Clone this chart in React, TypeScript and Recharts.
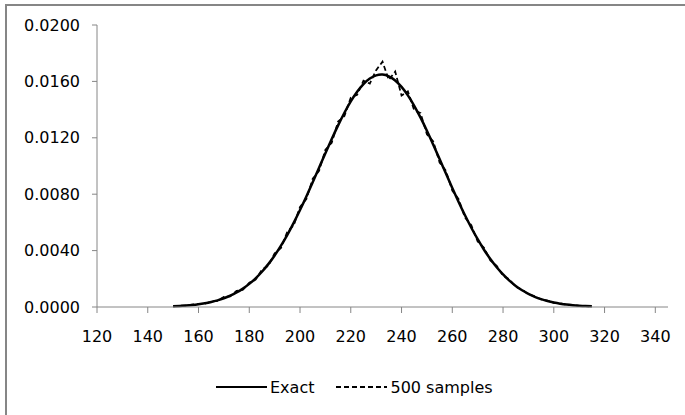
import React from "react";
import { LineChart, Line, XAxis, YAxis } from "recharts";

const xValues = [
  150, 152.5, 155, 157.5, 160, 162.5, 165, 167.5, 170, 172.5, 175, 177.5,
  180, 182.5, 185, 187.5, 190, 192.5, 195, 197.5, 200, 202.5, 205, 207.5,
  210, 212.5, 215, 217.5, 220, 222.5, 225, 227.5, 230, 232.5, 235, 237.5,
  240, 242.5, 245, 247.5, 250, 252.5, 255, 257.5, 260, 262.5, 265, 267.5,
  270, 272.5, 275, 277.5, 280, 282.5, 285, 287.5, 290, 292.5, 295, 297.5,
  300, 302.5, 305, 307.5, 310, 312.5, 315,
];

const exactValues = [
  0.000053, 0.0000748, 0.000105, 0.000144, 0.000197, 0.000267, 0.000357, 0.000473,
  0.000619, 0.000803, 0.001029, 0.001305, 0.001639, 0.002035, 0.002501, 0.00304,
  0.003657, 0.004351, 0.005122, 0.005968, 0.006877, 0.007842, 0.008848, 0.009875,
  0.010905, 0.011915, 0.01288, 0.013777, 0.014578, 0.015262, 0.015809, 0.016202,
  0.016429, 0.016485, 0.016359, 0.016065, 0.015609, 0.015005, 0.01427, 0.013429,
  0.012502, 0.011515, 0.010495, 0.009462, 0.008441, 0.007451, 0.006507, 0.005622,
  0.004805, 0.004063, 0.003401, 0.002815, 0.002306, 0.001868, 0.001498, 0.001188,
  0.000933, 0.000724, 0.000557, 0.000423, 0.000318, 0.000237, 0.000174, 0.000127,
  0.0000915, 0.0000652, 0.000046,
];

const sampleValues = [
  0.00005, 0.00009, 0.0001, 0.00017, 0.00021, 0.00024, 0.00039, 0.00044,
  0.00072, 0.00075, 0.00114, 0.00122, 0.00172, 0.00194, 0.00265, 0.00292,
  0.0038, 0.00418, 0.00534, 0.00578, 0.0071, 0.00765, 0.0091, 0.00965,
  0.01115, 0.01165, 0.01315, 0.01355, 0.01485, 0.01505, 0.01605, 0.01585,
  0.0168, 0.0174, 0.0161, 0.0167, 0.0150, 0.0153, 0.01395, 0.01375,
  0.01225, 0.01175, 0.01025, 0.00965, 0.00825, 0.00765, 0.00635, 0.0058,
  0.00465, 0.0042, 0.0033, 0.00292, 0.00222, 0.00195, 0.00143, 0.00124,
  0.00088, 0.00077, 0.00053, 0.00045, 0.0003, 0.00026, 0.00016, 0.00014,
  0.00008, 0.00007, 0.00004,
];

const xTicks = [120, 140, 160, 180, 200, 220, 240, 260, 280, 300, 320, 340];
const yTicks = [0, 0.004, 0.008, 0.012, 0.016, 0.02];
const seriesNames = ["Exact", "500 samples"];

const data = xValues.map((x, i) => ({
  x,
  exact: exactValues[i],
  samples: sampleValues[i],
}));

const FONT = "'DejaVu Sans', sans-serif";
const AXIS_GRAY = "#868686";

export default function App() {
  return (
    <div
      style={{
        position: "absolute",
        left: 0,
        top: 0,
        width: 685,
        height: 415,
        background: "#fff",
        overflow: "hidden",
      }}
    >
      <div
        style={{
          position: "absolute",
          left: 5,
          top: 4,
          width: 700,
          height: 430,
          borderTop: `2px solid ${AXIS_GRAY}`,
          borderLeft: `2px solid ${AXIS_GRAY}`,
          boxSizing: "border-box",
        }}
      />
      <div style={{ position: "absolute", left: 0, top: 0 }}>
        <LineChart
          width={685}
          height={415}
          data={data}
          margin={{ top: 25, right: 17, bottom: 68, left: 0 }}
        >
          <XAxis
            dataKey="x"
            type="number"
            domain={[120, 345]}
            ticks={xTicks}
            allowDataOverflow
            stroke={AXIS_GRAY}
            tickSize={6}
            tickMargin={18}
            height={40}
            tick={{ fill: "#000", fontSize: 16, fontFamily: FONT }}
            tickLine={{ stroke: AXIS_GRAY }}
          />
          <YAxis
            type="number"
            domain={[0, 0.02]}
            ticks={yTicks}
            width={97}
            stroke={AXIS_GRAY}
            tickSize={5}
            tickMargin={12}
            tickFormatter={(v: number) => v.toFixed(4)}
            tick={{ fill: "#000", fontSize: 16, fontFamily: FONT }}
            tickLine={{ stroke: AXIS_GRAY }}
          />
          <Line
            dataKey="exact"
            name={seriesNames[0]}
            type="natural"
            stroke="#000"
            strokeWidth={2.5}
            dot={false}
            isAnimationActive={false}
          />
          <Line
            dataKey="samples"
            name={seriesNames[1]}
            type="linear"
            stroke="#000"
            strokeWidth={1.75}
            strokeDasharray="5 3"
            dot={false}
            isAnimationActive={false}
          />
        </LineChart>
      </div>
      <div
        style={{
          position: "absolute",
          left: 216,
          top: 377,
          display: "flex",
          alignItems: "center",
          fontFamily: FONT,
          fontSize: 16,
          color: "#000",
          whiteSpace: "nowrap",
        }}
      >
        <svg width={51} height={20}>
          <line x1={0} y1={10} x2={51} y2={10} stroke="#000" strokeWidth={2} />
        </svg>
        <span style={{ marginLeft: 3 }}>{seriesNames[0]}</span>
        <svg width={51} height={20} style={{ marginLeft: 22 }}>
          <line
            x1={0}
            y1={10}
            x2={51}
            y2={10}
            stroke="#000"
            strokeWidth={2}
            strokeDasharray="5 3"
          />
        </svg>
        <span style={{ marginLeft: 3 }}>{seriesNames[1]}</span>
      </div>
    </div>
  );
}
